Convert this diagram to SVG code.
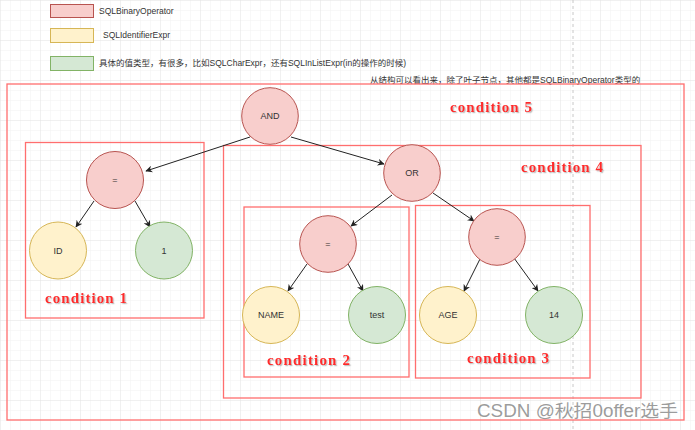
<svg xmlns="http://www.w3.org/2000/svg" width="695" height="430" viewBox="0 0 695 430">
<defs>
<pattern id="minor" width="10" height="10" patternUnits="userSpaceOnUse" x="0" y="0">
<path d="M10 0H0V10" fill="none" stroke="#f1f1f1" stroke-width="1"/>
</pattern>
<pattern id="major" width="40" height="40" patternUnits="userSpaceOnUse" x="0" y="0">
<rect width="40" height="40" fill="url(#minor)"/>
<path d="M40 0H0V40" fill="none" stroke="#e6e6e6" stroke-width="1"/>
</pattern>
<marker id="arr" viewBox="0 0 10 10" refX="9" refY="5" markerWidth="7" markerHeight="7" orient="auto" markerUnits="userSpaceOnUse">
<path d="M0 0L10 5L0 10L3 5Z" fill="#222"/>
</marker>
<filter id="sh" x="-10%" y="-30%" width="130%" height="180%">
<feDropShadow dx="1.2" dy="1.2" stdDeviation="0.6" flood-color="#999" flood-opacity="0.6"/>
</filter>
</defs>
<style>
.op{fill:#f8cecc;stroke:#b85450;stroke-width:1}
.id{fill:#fff2cc;stroke:#d6b656;stroke-width:1}
.val{fill:#d5e8d4;stroke:#82b366;stroke-width:1}
.box{fill:none;stroke:#ff6e6e;stroke-width:1.3}
.lbl{font-family:"Liberation Sans",Arial,sans-serif;font-size:9px;fill:#333;text-anchor:middle;dominant-baseline:central}
.leg{font-family:"Liberation Sans","Noto Sans CJK SC",sans-serif;font-size:8.5px;fill:#333;dominant-baseline:central}
.cond{font-family:"Liberation Serif","Times New Roman",serif;font-weight:bold;font-size:15px;fill:#ff2a2a;filter:url(#sh)}
.edge{stroke:#222;stroke-width:1;fill:none;marker-end:url(#arr)}
</style>
<rect width="695" height="430" fill="#fff"/>
<rect width="695" height="430" fill="url(#major)"/>
<line x1="573" y1="0" x2="573" y2="430" stroke="#c8c8c8" stroke-dasharray="3 3"/>

<g id="legend">
<rect x="50.5" y="4.5" width="43" height="13" class="op"/>
<text x="99" y="11" class="leg">SQLBinaryOperator</text>
<rect x="50.5" y="28.5" width="43" height="14" class="id"/>
<text x="103" y="35" class="leg">SQLIdentifierExpr</text>
<rect x="50.5" y="56.5" width="43" height="14" class="val"/>
<text x="99" y="63" class="leg">具体的值类型，有很多，比如SQLCharExpr，还有SQLInListExpr(in的操作的时候)</text>
<text x="370" y="80" class="leg">从结构可以看出来，除了叶子节点，其他都是SQLBinaryOperator类型的</text>
</g>

<g id="condition5">
<rect x="7" y="84" width="677" height="336" class="box"/>
<text x="450" y="112" class="cond" textLength="82" lengthAdjust="spacing">condition 5</text>
</g>
<g id="condition1">
<rect x="25.5" y="142.5" width="178.5" height="175.5" class="box"/>
<text x="45" y="303" class="cond" textLength="82" lengthAdjust="spacing">condition 1</text>
</g>
<g id="condition4">
<rect x="223.5" y="145.5" width="417.5" height="252.5" class="box"/>
<text x="521" y="172" class="cond" textLength="82" lengthAdjust="spacing">condition 4</text>
</g>
<g id="condition2">
<rect x="244" y="207" width="165" height="170" class="box"/>
<text x="267" y="365" class="cond" textLength="83" lengthAdjust="spacing">condition 2</text>
</g>
<g id="condition3">
<rect x="415.5" y="205.5" width="174.5" height="172.5" class="box"/>
<text x="467" y="363" class="cond" textLength="82" lengthAdjust="spacing">condition 3</text>
</g>

<g id="connectors">
<line x1="250" y1="137" x2="146" y2="171" class="edge"/>
<line x1="291" y1="137" x2="384" y2="164" class="edge"/>
<line x1="94" y1="201" x2="76" y2="227" class="edge"/>
<line x1="135" y1="201" x2="150" y2="227" class="edge"/>
<line x1="392" y1="195" x2="351" y2="226" class="edge"/>
<line x1="433" y1="193" x2="474" y2="221" class="edge"/>
<line x1="307" y1="264" x2="288" y2="291" class="edge"/>
<line x1="348" y1="264" x2="363" y2="291" class="edge"/>
<line x1="480" y1="259" x2="464" y2="291" class="edge"/>
<line x1="514" y1="258" x2="538" y2="291" class="edge"/>
</g>

<g id="n-and"><circle cx="270" cy="116" r="28.3" class="op"/><text x="270" y="116" class="lbl">AND</text></g>
<g id="n-eq1"><circle cx="115" cy="180" r="28.5" class="op"/><text x="115" y="180" class="lbl">=</text></g>
<g id="n-id"><circle cx="58" cy="250.5" r="28.5" class="id"/><text x="58" y="250.5" class="lbl">ID</text></g>
<g id="n-1"><circle cx="164" cy="250.5" r="28.5" class="val"/><text x="164" y="250.5" class="lbl">1</text></g>
<g id="n-or"><circle cx="412" cy="173" r="28.3" class="op"/><text x="412" y="173" class="lbl">OR</text></g>
<g id="n-eq2"><circle cx="328" cy="244" r="28.3" class="op"/><text x="328" y="244" class="lbl">=</text></g>
<g id="n-eq3"><circle cx="497" cy="237" r="28.3" class="op"/><text x="497" y="237" class="lbl">=</text></g>
<g id="n-name"><circle cx="271" cy="315" r="28.5" class="id"/><text x="271" y="315" class="lbl">NAME</text></g>
<g id="n-test"><circle cx="377" cy="315" r="28.5" class="val"/><text x="377" y="315" class="lbl">test</text></g>
<g id="n-age"><circle cx="448" cy="315" r="28.5" class="id"/><text x="448" y="315" class="lbl">AGE</text></g>
<g id="n-14"><circle cx="554" cy="315" r="28.5" class="val"/><text x="554" y="315" class="lbl">14</text></g>

<text x="477" y="417" font-family="'Liberation Sans','Noto Sans CJK SC',sans-serif" font-size="17.5" fill="#8a8a8a" fill-opacity="0.85" textLength="201" lengthAdjust="spacingAndGlyphs">CSDN @秋招0offer选手</text>
</svg>
